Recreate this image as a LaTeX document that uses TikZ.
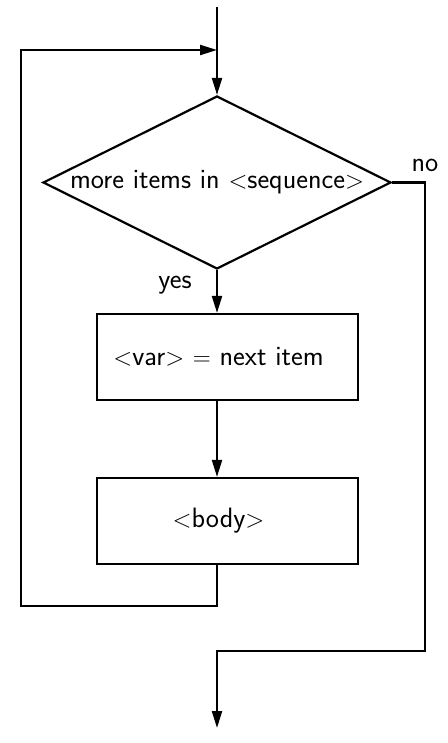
\documentclass[tikz,border=0pt]{standalone}
\usetikzlibrary{shapes.geometric,arrows.meta}
\begin{document}
\begin{tikzpicture}[x=1pt,y=-1pt,
  txt/.style={font=\fontsize{28}{32}\selectfont\sffamily},
  every node/.style={txt},
  every label/.style={txt},
  ln/.style={line width=2.2pt},
  arr/.style={ln,-{Triangle[length=17pt,width=10pt]}},
  dia/.style={ln,draw,diamond,aspect=2,inner sep=-4pt,minimum width=348pt,minimum height=173pt},
  box/.style={ln,draw,rectangle,minimum width=261pt,minimum height=86pt,inner sep=0pt}]
\useasboundingbox (0,0) rectangle (447,743);
\coordinate (top) at (217,7);
\coordinate (join) at (217,50);
\node[dia] (d) at (217,182.5) {more items in $<$sequence$>$};
\node[box,label={[xshift=-9pt]center:$<$var$>$ $=$ next item}] (b1) at (227.5,357) {};
\node[box,label={[xshift=-9pt]center:$<$body$>$}] (b2) at (227.5,521) {};
\coordinate (ll) at (21,606);
\coordinate (nr) at (425,651);
\coordinate (end) at (217,728);
\node (yes) at (175,285) {yes};
\node (no) at (425,165) {no};
\draw[arr] (top) -- (d.north);
\draw[arr] (d.south) -- (d.south |- b1.north);
\draw[arr] (b1.south -| join) -- (b2.north -| join);
\draw[arr] (b2.south -| join) -- (join |- ll) -- (ll) -- (ll |- join) -- (join);
\draw[arr] (d.east) -- (nr |- d.east) -- (nr) -- (nr -| end) -- (end);
\end{tikzpicture}
\end{document}
